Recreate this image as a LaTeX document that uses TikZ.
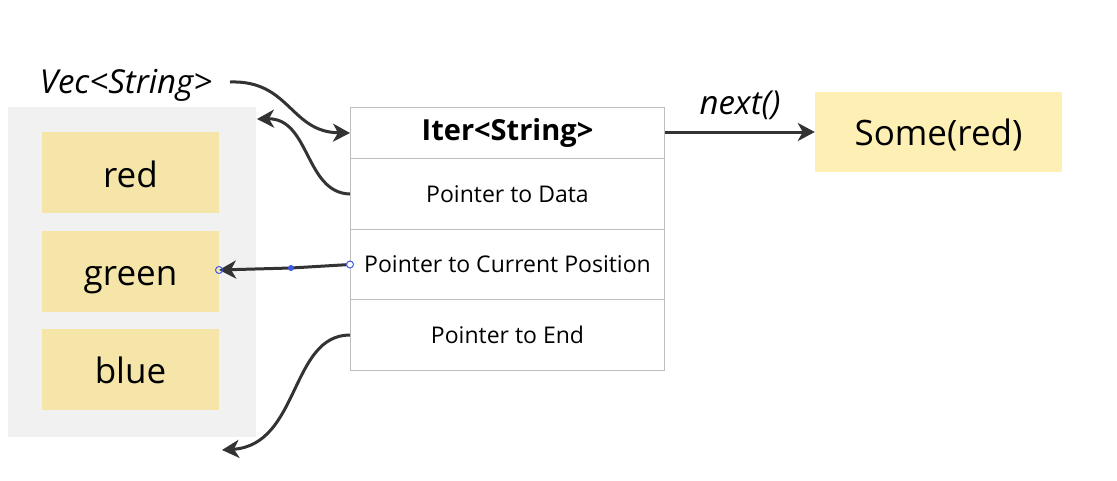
\documentclass[tikz,border=0pt]{standalone}
\usepackage{fontspec}
\setmainfont{Open Sans}
\usetikzlibrary{arrows.meta}
\definecolor{bggray}{RGB}{241,241,241}
\definecolor{tile}{RGB}{245,229,168}
\definecolor{tilelight}{RGB}{254,240,180}
\definecolor{rowline}{RGB}{190,190,190}
\definecolor{ink}{RGB}{51,51,51}
\definecolor{selblue}{RGB}{60,90,230}
\begin{document}
\begin{tikzpicture}[x=1pt,y=-1pt,
  tilebox/.style={fill=tile, minimum width=177pt, minimum height=81pt, inner sep=0pt, text height=36pt, text depth=7pt, font=\fontsize{35}{40}\selectfont},
  rowbox/.style={draw=rowline, line width=1pt, minimum width=314pt, inner sep=0pt, anchor=north west, font=\fontsize{23}{27}\selectfont},
  conn/.style={draw=ink, line width=3pt, -{Stealth[length=17pt,width=18pt,inset=5pt]}},
  lbl/.style={font=\fontsize{33}{38}\selectfont\itshape, inner sep=0pt}
]
\useasboundingbox (0,0) rectangle (1117,480);
% vector area
\node[fill=bggray, minimum width=248pt, minimum height=330pt, inner sep=0pt, anchor=north west] (vecbg) at (8,107) {};
\node[tilebox] (red) at (130.5,172.5) {red};
\node[tilebox] (green) at (130.5,271) {green};
\node[tilebox] (blue) at (130.5,369) {blue};
\node[lbl] (veclbl) at (126,85) {Vec<String>};
% iterator table
\node[rowbox, minimum height=51pt, font=\fontsize{29}{34}\selectfont\bfseries] (title) at (350,107) {Iter<String>};
\node[rowbox, minimum height=71pt] (data) at (350,158) {Pointer to Data};
\node[rowbox, minimum height=70pt] (cur) at (350,229) {Pointer to Current Position};
\node[rowbox, minimum height=71pt] (endp) at (350,299) {Pointer to End};
% result
\node[fill=tilelight, minimum width=247pt, minimum height=80pt, inner sep=0pt, text height=34pt, text depth=8pt, font=\fontsize{35}{40}\selectfont] (some) at (938.5,132) {Some(red)};
\node[lbl] (nextlbl) at (740,105) {next()};
% connectors
\coordinate (vecR) at (230,82);
\coordinate (vecTop) at (257,119);
\coordinate (below) at (222,450);
\coordinate (mid) at (291,268);
\coordinate (greenR) at (219,270);
\draw[conn] (vecR) .. controls (290,80) and (290,132) .. (title.west);
\draw[conn] (data.west) .. controls (305,193) and (310,118) .. (vecTop);
\draw[conn] (cur.west) -- (mid) -- (greenR);
\draw[conn] (endp.west) .. controls (290,335) and (300,445) .. (below);
\draw[conn] (title.east |- some.west) -- (some.west);
% selection markers
\draw[selblue, fill=white, line width=1pt] (cur.west) circle (3.5pt);
\fill[selblue] (mid) circle (3pt);
\draw[selblue, line width=1pt] (greenR) circle (3.5pt);
\end{tikzpicture}
\end{document}
